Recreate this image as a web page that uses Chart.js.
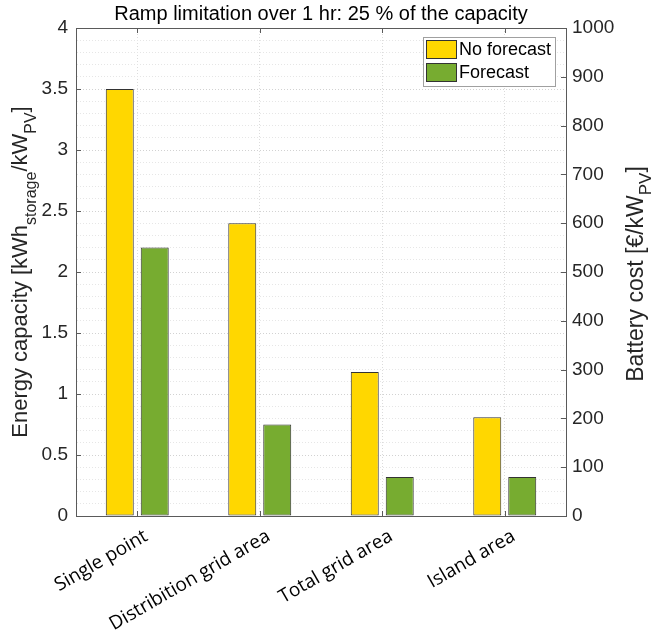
<!DOCTYPE html>
<html>
<head>
<meta charset="utf-8">
<script src="https://cdn.jsdelivr.net/npm/chart.js@4.4.1/dist/chart.umd.min.js"></script>
<style>
  html, body { margin: 0; padding: 0; background: #fff; }
  canvas { display: block; }
</style>
</head>
<body>
<canvas id="chart" width="654" height="635"></canvas>
<script>
const chartTitle = 'Ramp limitation over 1 hr: 25 % of the capacity';
const categories = ['Single point', 'Distribition grid area', 'Total grid area', 'Island area'];
const seriesNames = ['No forecast', 'Forecast'];
const noForecast = [3.5, 2.4, 1.18, 0.81];
const forecast = [2.2, 0.75, 0.32, 0.32];
const leftTitle = [['Energy capacity [kWh', false], ['storage', true], ['/kW', false], ['PV', true], [']', false]];
const rightTitle = [['Battery cost [€/kW', false], ['PV', true], [']', false]];

const FONT = '"Liberation Sans", Arial, sans-serif';
const AXIS = '#5a5a5a';

function drawRichText(ctx, parts, x, y, size, subSize, subDrop) {
    let total = 0;
    parts.forEach(([t, sub]) => {
        ctx.font = (sub ? subSize : size) + 'px ' + FONT;
        total += ctx.measureText(t).width;
    });
    ctx.save();
    ctx.translate(x, y);
    ctx.rotate(-Math.PI / 2);
    ctx.fillStyle = '#262626';
    ctx.textBaseline = 'alphabetic';
    ctx.textAlign = 'left';
    let pos = -total / 2;
    parts.forEach(([t, sub]) => {
        ctx.font = (sub ? subSize : size) + 'px ' + FONT;
        ctx.fillText(t, pos, sub ? subDrop : 0);
        pos += ctx.measureText(t).width;
    });
    ctx.restore();
}

// frame, inward ticks, titles and legend in the MATLAB look
const decorations = {
    id: 'decorations',
    afterDraw(chart) {
        const ctx = chart.ctx;
        const a = chart.chartArea;
        const y = chart.scales.y;
        const y1 = chart.scales.y1;
        const x = chart.scales.x;

        ctx.save();
        ctx.strokeStyle = AXIS;
        ctx.lineWidth = 1;
        ctx.beginPath();
        ctx.moveTo(a.left, a.top + 0.5);
        ctx.lineTo(a.right, a.top + 0.5);
        for (let v = 0; v <= 4.0001; v += 0.5) {
            const p = Math.round(y.getPixelForValue(v)) + 0.5;
            ctx.moveTo(a.left, p);
            ctx.lineTo(a.left + 5, p);
        }
        for (let v = 0; v <= 1000; v += 100) {
            const p = Math.round(y1.getPixelForValue(v)) + 0.5;
            ctx.moveTo(a.right, p);
            ctx.lineTo(a.right - 5, p);
        }
        categories.forEach((c, i) => {
            const p = Math.round(x.getPixelForValue(i)) + 0.5;
            ctx.moveTo(p, a.bottom);
            ctx.lineTo(p, a.bottom - 5);
            ctx.moveTo(p, a.top);
            ctx.lineTo(p, a.top + 5);
        });
        ctx.stroke();

        ctx.fillStyle = '#000';
        ctx.font = '20px ' + FONT;
        ctx.textAlign = 'center';
        ctx.textBaseline = 'alphabetic';
        ctx.fillText(chartTitle, (a.left + a.right) / 2, 20);

        drawRichText(ctx, leftTitle, 27, (a.top + a.bottom) / 2, 22, 16, 9);
        drawRichText(ctx, rightTitle, 643, (a.top + a.bottom) / 2 + 2, 23, 17, 8);

        // legend box
        const lx = 423, ly = 37, lw = 132, lh = 49;
        ctx.fillStyle = '#fff';
        ctx.fillRect(lx, ly, lw, lh);
        ctx.strokeStyle = '#a0a0a0';
        ctx.strokeRect(lx + 0.5, ly + 0.5, lw, lh);
        ctx.font = '18px ' + FONT;
        ctx.textAlign = 'left';
        ctx.textBaseline = 'middle';
        chart.data.datasets.forEach((ds, i) => {
            const ry = ly + 3 + i * 23;
            ctx.fillStyle = ds.backgroundColor;
            ctx.fillRect(lx + 3, ry, 31, 19);
            ctx.strokeStyle = '#333';
            ctx.strokeRect(lx + 3.5, ry + 0.5, 30, 18);
            ctx.fillStyle = '#000';
            ctx.fillText(ds.label, lx + 36, ry + 10);
        });
        ctx.restore();
    }
};

const isMajor = v => Math.abs(v * 2 - Math.round(v * 2)) < 1e-6;

new Chart(document.getElementById('chart'), {
    type: 'bar',
    data: {
        labels: categories,
        datasets: [
            {
                label: seriesNames[0],
                data: noForecast,
                backgroundColor: '#FFD700',
                borderColor: '#333333',
                borderWidth: 1,
                borderSkipped: false,
                categoryPercentage: 0.571,
                barPercentage: 0.8
            },
            {
                label: seriesNames[1],
                data: forecast,
                backgroundColor: '#77AC30',
                borderColor: '#333333',
                borderWidth: 1,
                borderSkipped: false,
                categoryPercentage: 0.571,
                barPercentage: 0.8
            }
        ]
    },
    options: {
        responsive: false,
        animation: false,
        devicePixelRatio: 1,
        layout: { padding: { top: 28 } },
        plugins: {
            legend: { display: false },
            title: { display: false },
            tooltip: { enabled: false }
        },
        scales: {
            x: {
                offset: true,
                afterFit: s => { s.height = 119; },
                grid: {
                    offset: false,
                    drawTicks: false,
                    color: '#dcdcdc'
                },
                border: { color: AXIS, dash: [1, 2] },
                ticks: {
                    color: '#000',
                    font: { family: '"Open Sans", sans-serif', size: 19 },
                    minRotation: 30,
                    maxRotation: 30,
                    labelOffset: 9,
                    padding: 9
                }
            },
            y: {
                min: 0,
                max: 4,
                afterFit: s => { s.width = 76; },
                grid: {
                    drawTicks: false,
                    color: ctx => isMajor(ctx.tick.value) ? '#d2d2d2' : '#e6e6e6'
                },
                border: { color: AXIS, dash: [1, 2] },
                ticks: {
                    stepSize: 0.1,
                    autoSkip: false,
                    padding: 8,
                    color: '#262626',
                    font: { family: FONT, size: 19 },
                    callback: v => isMajor(v) ? String(Math.round(v * 10) / 10) : ''
                }
            },
            y1: {
                position: 'right',
                min: 0,
                max: 1000,
                afterFit: s => { s.width = 88; },
                grid: { display: false, drawTicks: false },
                border: { color: AXIS },
                ticks: {
                    stepSize: 100,
                    padding: 6,
                    color: '#262626',
                    font: { family: FONT, size: 19 },
                    callback: v => String(v)
                }
            }
        }
    },
    plugins: [decorations]
});
</script>
</body>
</html>
